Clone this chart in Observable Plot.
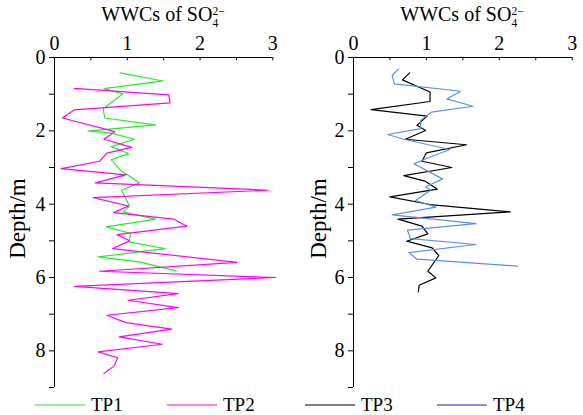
<!DOCTYPE html>
<html>
<head>
<meta charset="utf-8">
<script src="https://cdn.jsdelivr.net/npm/d3@7"></script>
<script src="https://cdn.jsdelivr.net/npm/@observablehq/plot@0.6"></script>
<style>
  body { margin: 0; background: #fff; }
  #wrap { position: relative; width: 583px; height: 415px; font-family: "Liberation Serif", "Times New Roman", Times, serif; }
  #wrap svg { position: absolute; top: 0; }
  .title { position: absolute; top: 4px; font-size: 20px; line-height: 1; white-space: nowrap; transform: translateX(-50%); }
  .ss { display: inline-block; font-size: 0.58em; line-height: 1; vertical-align: -0.5em; }
  .ss span { display: block; }
</style>
</head>
<body>
<div id="wrap"></div>
<script>
// ---- data ----
const tp1Depth = [0.42,0.64,0.85,0.99,1.40,1.65,1.84,2.01,2.05,2.23,2.43,2.62,2.79,3.08,3.20,3.42,3.62,3.81,4.05,4.21,4.41,4.62,4.80,5.03,5.21,5.44,5.58,5.82];
const tp1Value = [0.90,1.49,0.68,0.94,0.67,0.69,1.39,0.46,0.75,1.10,0.78,1.02,0.78,0.91,1.00,1.17,0.92,0.97,1.03,0.94,1.39,0.71,1.05,1.02,1.52,0.60,1.18,1.67];

const tp2Depth = [0.84,1.02,1.24,1.43,1.65,2.02,2.23,2.45,2.61,2.83,3.03,3.20,3.42,3.62,3.82,4.05,4.23,4.41,4.60,4.83,5.00,5.21,5.59,5.83,6.00,6.24,6.44,6.62,6.82,7.03,7.23,7.41,7.62,7.82,8.03,8.19,8.41,8.62];
const tp2Value = [0.27,1.57,1.59,0.27,0.11,0.83,0.68,1.06,0.72,0.62,0.09,0.98,0.56,2.94,0.53,1.02,0.81,1.64,1.82,0.86,1.03,0.80,2.51,0.62,3.04,0.27,1.70,1.01,1.70,0.72,0.98,1.61,0.89,1.48,0.60,0.87,0.82,0.68];

const tp3Depth = [0.42,0.61,0.94,1.20,1.42,1.60,1.85,1.99,2.23,2.38,2.60,2.83,3.00,3.22,3.37,3.59,3.80,4.01,4.21,4.41,4.60,4.81,5.01,5.19,5.40,5.83,6.01,6.21,6.39];
const tp3Value = [0.77,0.67,1.05,1.05,0.24,1.01,0.87,0.99,0.71,1.55,1.00,0.94,1.35,0.69,0.98,1.15,0.50,1.05,2.15,0.61,0.94,1.02,0.73,1.08,1.17,1.02,1.13,0.90,0.89];

const tp4Depth = [0.31,0.49,0.72,0.92,1.13,1.33,1.49,1.72,1.94,2.10,2.23,2.51,2.76,2.90,3.31,3.53,3.62,3.90,4.08,4.29,4.53,4.71,4.94,5.10,5.32,5.50,5.69];
const tp4Value = [0.62,0.53,0.56,1.47,1.28,1.64,1.07,0.92,0.92,0.47,0.69,1.32,0.99,0.83,1.22,0.99,1.06,0.85,1.13,0.53,1.68,0.74,0.78,1.68,0.76,0.87,2.25];

const xTickLabels = [0, 1, 2, 3];
const xTicksAll = [0, 0.5, 1, 1.5, 2, 2.5, 3];
const yTickLabels = [0, 2, 4, 6, 8];
const yTicksMinor = [1, 3, 5, 7, 9];
const seriesNames = ["TP1", "TP2", "TP3", "TP4"];
const lineColors = {TP1: "#22ee22", TP2: "#ff00ff", TP3: "#000000", TP4: "#5a8ff0"};
const legendColors = {TP1: "#22ee22", TP2: "#ff00ff", TP3: "#000000", TP4: "#1a1acc"};

const FONT = '"Liberation Serif", "Times New Roman", Times, serif';
const toRows = (name, depth, value) => depth.map((d, i) => ({series: name, depth: d, value: value[i]}));

const wrap = document.getElementById("wrap");

function panel(rows, left, mL, mR, labelDx) {
  const chart = Plot.plot({
    width: 290, height: 390,
    marginLeft: mL, marginRight: mR, marginTop: 57, marginBottom: 3,
    x: {domain: [0, 3], axis: null},
    y: {domain: [0, 9], reverse: true, axis: null},
    style: {fontFamily: FONT, fontSize: "20px", color: "#000", background: "transparent", overflow: "visible"},
    marks: [
      Plot.axisX({anchor: "top", ticks: xTickLabels, tickFormat: d3.format("d"), tickSize: 0, tickPadding: 8, fontSize: 20, label: null}),
      Plot.ruleX(xTicksAll, {y1: 0, y2: 0.09, stroke: "#000"}),
      Plot.axisY({anchor: "left", ticks: yTickLabels, tickFormat: d3.format("d"), tickSize: 5, tickPadding: 4, fontSize: 20, label: null}),
      Plot.axisY({anchor: "left", ticks: yTicksMinor, tickSize: 5, tickFormat: () => "", label: null}),
      Plot.ruleY([0], {stroke: "#000"}),
      Plot.ruleX([0], {stroke: "#000"}),
      Plot.line(rows, {x: "value", y: "depth", z: "series", stroke: d => lineColors[d.series], strokeWidth: 1.2, curve: "linear"}),
      Plot.text(["Depth/m"], {frameAnchor: "left", textAnchor: "middle", lineAnchor: "middle", rotate: -90, dx: labelDx, dy: -4, fontSize: 23, fill: "#000"})
    ]
  });
  chart.style.left = left + "px";
  wrap.appendChild(chart);
}

panel([...toRows("TP1", tp1Depth, tp1Value), ...toRows("TP2", tp2Depth, tp2Value)], 0, 54, 17.7, -37);
panel([...toRows("TP3", tp3Depth, tp3Value), ...toRows("TP4", tp4Depth, tp4Value)], 293, 60, 11.3, -35);

// titles
[163, 462].forEach(cx => {
  const t = document.createElement("div");
  t.className = "title";
  t.style.left = cx + "px";
  t.innerHTML = 'WWCs of SO<span class="ss"><span>2\u2212</span><span>4</span></span>';
  wrap.appendChild(t);
});

// legend
const legendX = {TP1: 35, TP2: 167, TP3: 305, TP4: 437};
const leg = d3.create("svg").attr("width", 583).attr("height", 25)
  .style("top", "390px").style("left", "0px").style("overflow", "visible");
seriesNames.forEach(name => {
  const x0 = legendX[name];
  leg.append("line").attr("x1", x0).attr("x2", x0 + 50).attr("y1", 15).attr("y2", 15)
    .attr("stroke", legendColors[name]).attr("stroke-width", 1.2);
  leg.append("text").attr("x", x0 + 56).attr("y", 21).text(name)
    .attr("font-family", FONT).attr("font-size", 19).attr("fill", "#000");
});
wrap.appendChild(leg.node());
</script>
</body>
</html>
